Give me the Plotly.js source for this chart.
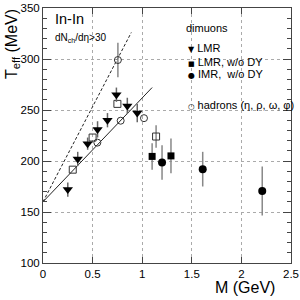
<!DOCTYPE html>
<html><head><meta charset="utf-8">
<script src="https://cdn.plot.ly/plotly-3.0.1.min.js"></script>
<style>html,body{margin:0;padding:0;background:#fff}#chart{width:300px;height:300px}</style>
</head><body><div id="chart"></div>
<script>
// LMR (filled down triangles)
var lmrM = [0.25, 0.35, 0.45, 0.55, 0.65, 0.74, 0.85, 0.95];
var lmrT = [172, 202, 217, 231, 240, 265, 254, 247];
var lmrErr = [7, 7, 6, 8, 7, 7, 8, 9];
// LMR, w/o DY (filled squares)
var lmrNoDyM = [1.10, 1.29];
var lmrNoDyT = [204.5, 205];
var lmrNoDyErr = [13, 17];
// IMR, w/o DY (filled circles)
var imrM = [1.20, 1.61, 2.21];
var imrT = [198.5, 192, 170.5];
var imrErr = [17, 17, 24];
// hadrons (open circles)
var hadM = [0.548, 0.755, 0.783, 1.018];
var hadT = [218, 299, 239.5, 242];
var hadErr = [0, 17, 0, 0];
// open squares
var sqM = [0.30, 0.50, 0.75, 1.14];
var sqT = [191.5, 223, 256, 224];
var sqErr = [0, 0, 0, 11];
// fit lines
var fitSolidM = [0, 1.1];
var fitSolidT = [160, 272];
var fitDashM = [0, 0.89];
var fitDashT = [160, 326];
// ticks
var xTicks = [0, 0.5, 1, 1.5, 2, 2.5];
var xTickText = ['0', '0.5', '1', '1.5', '2', '2.5'];
var yTicks = [100, 150, 200, 250, 300, 350];
var yTickText = ['100', '150', '200', '250', '300', '350'];

var errStyle = function(arr, col){ return {type:'data', array: arr, visible:true, width:0, thickness:1.5, color: col}; };

var traces = [
  {x: fitDashM, y: fitDashT, mode:'lines', line:{color:'#222', width:1, dash:'3px,2px'}, showlegend:false, hoverinfo:'skip'},
  {x: fitSolidM, y: fitSolidT, mode:'lines', line:{color:'#222', width:1}, showlegend:false, hoverinfo:'skip'},
  {x: sqM, y: sqT, mode:'markers', error_y: errStyle(sqErr, '#888'),
   marker:{symbol:'square-open', size:7, color:'#333', line:{width:1}}, showlegend:false},
  {x: hadM, y: hadT, mode:'markers', error_y: errStyle(hadErr, '#888'),
   marker:{symbol:'circle-open', size:7, color:'#333', line:{width:1}}, showlegend:false},
  {x: lmrM, y: lmrT, mode:'markers', error_y: errStyle(lmrErr, '#666'),
   marker:{symbol:'triangle-down', size:9, color:'#000'}, showlegend:false},
  {x: lmrNoDyM, y: lmrNoDyT, mode:'markers', error_y: errStyle(lmrNoDyErr, '#888'),
   marker:{symbol:'square', size:7, color:'#000'}, showlegend:false},
  {x: imrM, y: imrT, mode:'markers', error_y: errStyle(imrErr, '#888'),
   marker:{symbol:'circle', size:8, color:'#000'}, showlegend:false}
];

function px2x(p){ return (p - 43) / 248; }
function px2y(p){ return (263 - p) / 255; }
var F = 'Liberation Sans, Arial, sans-serif';
function sym(ch, sz){ return '<span style="font-family:DejaVu Sans;font-size:' + sz + 'px">' + ch + '</span>'; }
function ann(text, xp, yp, size){
  return {text: text, xref:'paper', yref:'paper', x: px2x(xp), y: px2y(yp), xanchor:'left', yanchor:'middle',
          showarrow:false, font:{family: F, size: size, color:'#000'}};
}
var annotations = [
  ann('In-In', 53, 19.5, 14.5),
  ann('dN<sub>ch</sub>/dη>30', 53, 38, 10),
  ann('dimuons', 184, 28, 11),
  ann(sym('▼', 8) + ' LMR', 185.5, 48, 11),
  ann(sym('■', 7) + ' LMR, w/o DY', 186, 61.7, 11),
  ann(sym('●', 8) + ' IMR,  w/o DY', 185.5, 74, 11),
  ann(sym('○', 7.5) + '&nbsp;hadrons (η, ρ, ω, φ)', 186, 105, 11),
  {text:'T<sub>eff</sub> (MeV)', xref:'paper', yref:'paper', x: px2x(12), y: px2y(44), xanchor:'center', yanchor:'middle',
   textangle:-90, showarrow:false, font:{family:F, size:16, color:'#000'}},
  {text:'M (GeV)', xref:'paper', yref:'paper', x: px2x(277), y: px2y(287), xanchor:'right', yanchor:'middle',
   showarrow:false, font:{family:F, size:16, color:'#000'}}
];

var axisCommon = {
  showline:true, linecolor:'#444', linewidth:1, mirror:'ticks',
  ticks:'inside', tickcolor:'#444', tickwidth:1,
  showgrid:true, gridcolor:'#aaa', griddash:'dot', gridwidth:1,
  zeroline:false, tickfont:{family:F, size:11.5, color:'#000'}, tickmode:'array'
};
var layout = {
  width:300, height:300, margin:{l:43, r:9, t:8, b:37},
  paper_bgcolor:'#fff', plot_bgcolor:'#fff', showlegend:false,
  xaxis: Object.assign({}, axisCommon, {range:[0, 2.5], tickvals:xTicks, ticktext:xTickText, ticklen:6}),
  yaxis: Object.assign({}, axisCommon, {range:[100, 350], tickvals:yTicks, ticktext:yTickText, ticklen:8,
          minor:{dtick:10, ticks:'inside', ticklen:4, tickcolor:'#444', showgrid:false}}),
  annotations: annotations
};
Plotly.newPlot('chart', traces, layout, {staticPlot:true, displayModeBar:false});
</script></body></html>
